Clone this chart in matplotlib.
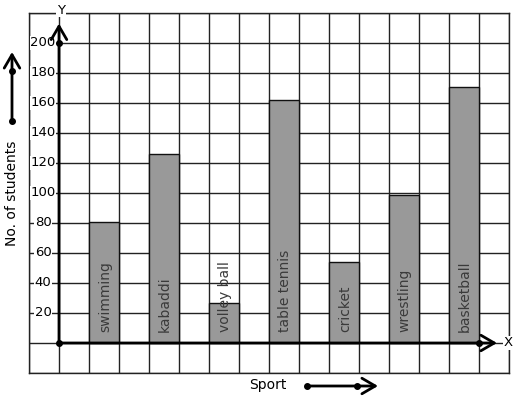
import numpy as np
import matplotlib
matplotlib.use("Agg")
import matplotlib.pyplot as plt

# ====================== DATA ======================
sports = ["swimming", "kabaddi", "volley ball", "table tennis",
          "cricket", "wrestling", "basketball"]
students = [81, 126, 27, 162, 54, 99, 171]
y_ticks = [20, 40, 60, 80, 100, 120, 140, 160, 180, 200]
# ==================================================

W, H = 517, 399
fig = plt.figure(figsize=(W / 100, H / 100), dpi=100)

# grid area: x 29..509 px, y 13..373 px (top-down), 30 px cells
ax = fig.add_axes([29 / W, (H - 373) / H, 480 / W, 360 / H])
ax.set_xlim(-1, 15)
ax.set_ylim(-20, 220)
ax.set_xticks(np.arange(-1, 16))
ax.set_yticks(np.arange(-20, 221, 20))
ax.grid(True, color="#222222", lw=1)
ax.tick_params(length=0, labelbottom=False, labelleft=False)
for s in ax.spines.values():
    s.set_color("#222222")
    s.set_linewidth(1)
ax.set_axisbelow(True)

# bars in every other cell, starting at cell 1
xpos = np.arange(len(sports)) * 2 + 1.5
ax.bar(xpos, students, width=1.0, color="#999999", edgecolor="#111111",
       lw=1, zorder=2)
for x, name in zip(xpos, sports):
    ax.text(x + 0.03, 7, name, rotation=90, ha="center", va="bottom",
            fontsize=10, color="#3a3a3a", zorder=4)

# y tick labels with white background over the grid
for v in y_ticks:
    ax.text(-0.53, v, str(v), ha="center", va="center", fontsize=9.5,
            bbox=dict(fc="white", ec="none", pad=0.5), zorder=3)

# axes with arrows
arrow = dict(arrowstyle="->,head_length=0.6,head_width=0.35", lw=2,
             color="black", shrinkA=0, shrinkB=0, mutation_scale=16)
ax.annotate("", xy=(0, 213), xytext=(0, 0), annotation_clip=False,
            arrowprops=arrow, zorder=5)
ax.annotate("", xy=(14.6, 0), xytext=(0, 0), annotation_clip=False,
            arrowprops=arrow, zorder=5)
ax.plot([0, 0, 14], [0, 200, 0], "o", color="black", ms=4, zorder=6,
        clip_on=False)
ax.text(0.07, 222, "Y", ha="center", va="center", fontsize=9.5,
        bbox=dict(fc="white", ec="none", pad=0.5), clip_on=False, zorder=5)
ax.text(14.97, 0, "X", ha="center", va="center", fontsize=9.5,
        bbox=dict(fc="white", ec="none", pad=0.5), clip_on=False, zorder=5)

# overlay in pixel coords for the outside labels and arrows
ov = fig.add_axes([0, 0, 1, 1], facecolor="none")
ov.set_xlim(0, W)
ov.set_ylim(H, 0)
ov.axis("off")

ov.annotate("", xy=(12, 52), xytext=(12, 121), arrowprops=arrow)
ov.plot([12, 12], [121, 71], "o", color="black", ms=4)
ov.text(12, 193, "No. of students", rotation=90, ha="center", va="center",
        fontsize=10)

ov.annotate("", xy=(378, 386), xytext=(307, 386), arrowprops=arrow)
ov.plot([307, 357], [386, 386], "o", color="black", ms=4)
ov.text(268, 385, "Sport", ha="center", va="center", fontsize=10)

fig.savefig("out.png", dpi=100)
